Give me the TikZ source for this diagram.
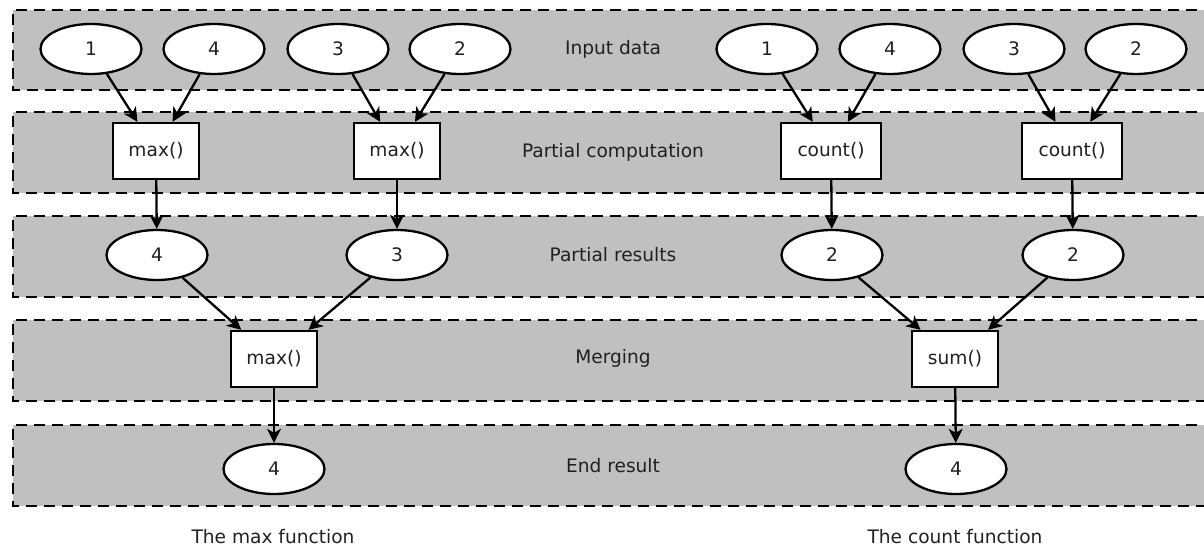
\documentclass[tikz,border=0pt]{standalone}
\usepackage{fontspec}
\setmainfont{DejaVu Sans}
\usetikzlibrary{shapes.geometric,arrows.meta}
\definecolor{bandgray}{HTML}{C0C0C0}
\definecolor{txt}{HTML}{202020}
\tikzset{
  band/.style={fill=bandgray},
  bandline/.style={draw=black,line width=2.3pt,dash pattern=on 11pt off 7pt},
  val/.style={ellipse,draw=black,fill=white,line width=2.3pt,minimum width=101pt,minimum height=50pt,inner sep=0pt,text=txt,font=\fontsize{18.6}{20}\selectfont},
  fn/.style={rectangle,draw=black,fill=white,line width=2.3pt,minimum width=86pt,minimum height=56pt,inner sep=0pt,text=txt,font=\fontsize{18.6}{20}\selectfont},
  fnwide/.style={fn,minimum width=100pt},
  lbl/.style={text=txt,font=\fontsize{18.6}{20}\selectfont,inner sep=0pt},
  edge/.style={draw=black,line width=2.3pt,-{Stealth[length=14pt,width=14pt,inset=4pt]}},
}
\begin{document}
\begin{tikzpicture}[x=1pt,y=-1pt]
\useasboundingbox (0,0) rectangle (1204,548);
% bands
\foreach \t/\b in {10/90,112/193,216/297,320/401,425/506}{
  \fill[band] (13,\t) rectangle (1215,\b);
  \draw[bandline] (1215,\t) -- (13,\t) -- (13,\b) -- (1215,\b);
}
% band labels
\node[lbl] (l1) at (613,49) {Input data};
\node[lbl] (l2) at (613,152) {Partial computation};
\node[lbl] (l3) at (613,255) {Partial results};
\node[lbl] (l4) at (613,358) {Merging};
\node[lbl] (l5) at (613,466) {End result};
\node[lbl] (c1) at (273,537) {The max function};
\node[lbl] (c2) at (955,537) {The count function};
% max function
\node[val] (a1) at (91,49) {1};
\node[val] (a2) at (214,49) {4};
\node[val] (a3) at (338,49) {3};
\node[val] (a4) at (460,49) {2};
\node[fn] (am1) at (156,151) {max()};
\node[fn] (am2) at (397,151) {max()};
\node[val] (ar1) at (157,255) {4};
\node[val] (ar2) at (397,255) {3};
\node[fn] (amm) at (274,359) {max()};
\node[val] (ae) at (274,469) {4};
% count function
\node[val] (b1) at (767,49) {1};
\node[val] (b2) at (890,49) {4};
\node[val] (b3) at (1014,49) {3};
\node[val] (b4) at (1136,49) {2};
\node[fnwide] (bc1) at (831,151) {count()};
\node[fnwide] (bc2) at (1072,151) {count()};
\node[val] (br1) at (832,255) {2};
\node[val] (br2) at (1073,255) {2};
\node[fn] (bs) at (955,359) {sum()};
\node[val] (be) at (956,469) {4};
% edges
\draw[edge] (a1) -- (am1);
\draw[edge] (a2) -- (am1);
\draw[edge] (a3) -- (am2);
\draw[edge] (a4) -- (am2);
\draw[edge] (am1) -- (ar1);
\draw[edge] (am2) -- (ar2);
\draw[edge] (ar1) -- (amm);
\draw[edge] (ar2) -- (amm);
\draw[edge] (amm) -- (ae);
\draw[edge] (b1) -- (bc1);
\draw[edge] (b2) -- (bc1);
\draw[edge] (b3) -- (bc2);
\draw[edge] (b4) -- (bc2);
\draw[edge] (bc1) -- (br1);
\draw[edge] (bc2) -- (br2);
\draw[edge] (br1) -- (bs);
\draw[edge] (br2) -- (bs);
\draw[edge] (bs) -- (be);
\end{tikzpicture}
\end{document}
